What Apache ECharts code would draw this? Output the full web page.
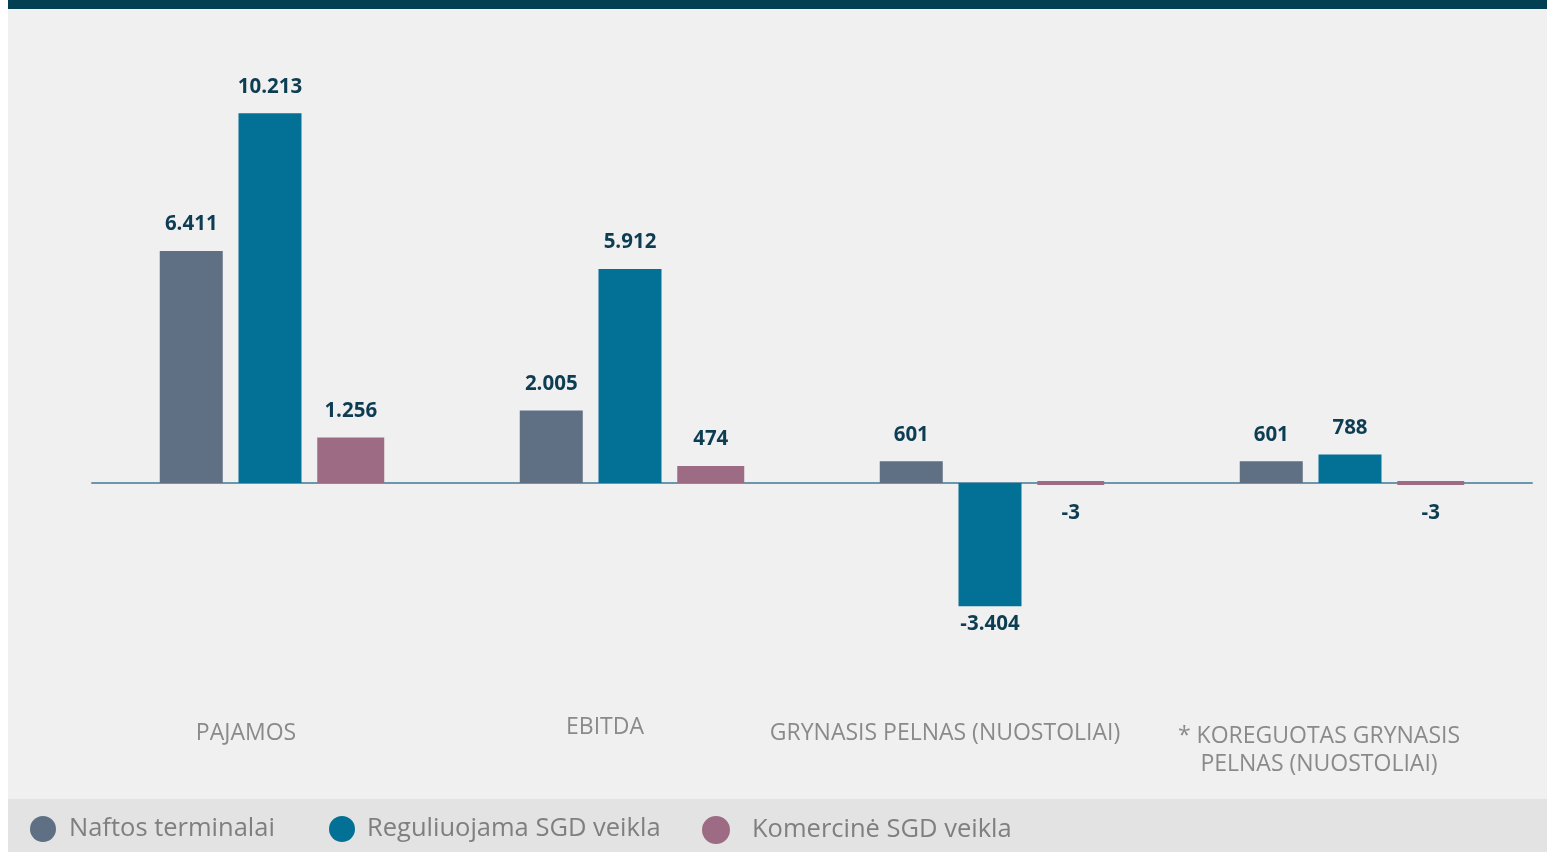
<!DOCTYPE html>
<html>
<head>
<meta charset="utf-8">
<script src="https://cdn.jsdelivr.net/npm/echarts@6/dist/echarts.min.js"></script>
<style>
html,body{margin:0;padding:0;background:#ffffff;}
#chart{width:1547px;height:852px;}
</style>
</head>
<body>
<div id="chart"></div>
<script>
// ---- data ----
const categories = ['PAJAMOS', 'EBITDA', 'GRYNASIS PELNAS (NUOSTOLIAI)', '* KOREGUOTAS GRYNASIS\nPELNAS (NUOSTOLIAI)'];
const seriesNames = ['Naftos terminalai', 'Reguliuojama SGD veikla', 'Komercinė SGD veikla'];
const naftos = [6411, 2005, 601, 601];
const reguliuojama = [10213, 5912, -3404, 788];
const komercine = [1256, 474, -3, -3];

// ---- styling ----
const colors = ['#5f6f84', '#037195', '#9e6b85'];
const labelShift = [26, 27, 47, 33];      // px shift left of category label
const labelTop = [6, 0, 6, 9];           // px extra top padding
const legendLeft = [30, 329, 702];
const legendTextPad = [8, 7, 18];

function fmt(v) {
  const s = Math.abs(v).toString();
  const withDots = s.replace(/\B(?=(\d{3})+(?!\d))/g, '.');
  return (v < 0 ? '-' : '') + withDots;
}

function buildData(values) {
  return values.map(v => ({
    value: v,
    label: v < 0 ? { position: 'bottom', distance: Math.abs(v) < 100 ? 18 : 7 } : { position: 'top', distance: 16 }
  }));
}

const valueLabel = {
  show: true,
  formatter: p => fmt(p.value),
  fontFamily: 'Open Sans',
  fontWeight: 'bold',
  fontSize: 20.5,
  color: '#0d3d52'
};

const chart = echarts.init(document.getElementById('chart'), null, { renderer: 'canvas' });

const option = {
  backgroundColor: '#ffffff',
  animation: false,
  graphic: [
    { type: 'rect', z: -10, silent: true, shape: { x: 8, y: 0, width: 1539, height: 9 }, style: { fill: '#033f52' } },
    { type: 'rect', z: -10, silent: true, shape: { x: 8, y: 9, width: 1539, height: 790 }, style: { fill: '#f0f0f0' } },
    { type: 'rect', z: -10, silent: true, shape: { x: 8, y: 799, width: 1539, height: 53 }, style: { fill: '#e3e3e3' } }
  ],
  legend: [0, 1, 2].map(i => ({
    data: [seriesNames[i]],
    left: legendLeft[i],
    top: 816,
    padding: 0,
    icon: 'circle',
    itemWidth: 26,
    itemHeight: 26,
    itemGap: 0,
    selectedMode: false,
    textStyle: { fontFamily: 'Open Sans', fontSize: 25.5, color: '#7f7f7f', padding: [0, 0, 0, legendTextPad[i]] }
  })),
  grid: { left: 92, right: 15, top: 48.5, height: 579.4, containLabel: false, outerBoundsMode: 'none' },
  xAxis: [
    {
      type: 'category',
      position: 'bottom',
      data: categories,
      axisLine: { onZero: true, lineStyle: { color: '#6b96ab', width: 2 } },
      axisTick: { show: false },
      axisLabel: { show: false },
      splitLine: { show: false }
    },
    {
      type: 'category',
      position: 'bottom',
      data: categories.map((c, i) => ({
        value: c,
        textStyle: { padding: [labelTop[i], labelShift[i] * 2, 0, 0] }
      })),
      axisLine: { show: false, onZero: false },
      axisTick: { show: false },
      splitLine: { show: false },
      axisLabel: {
        show: true,
        interval: 0,
        margin: 86,
        fontFamily: 'Open Sans',
        fontSize: 23,
        lineHeight: 28,
        color: '#8a8a8a',
        align: 'center'
      }
    }
  ],
  yAxis: {
    type: 'value',
    min: -4000,
    max: 12000,
    show: false,
    splitLine: { show: false }
  },
  series: [
    { name: seriesNames[0], type: 'bar', data: buildData(naftos), barWidth: 63, barGap: '25%',
      itemStyle: { color: colors[0] }, label: valueLabel },
    { name: seriesNames[1], type: 'bar', data: buildData(reguliuojama), barWidth: 63, barGap: '25%',
      itemStyle: { color: colors[1] }, label: valueLabel },
    { name: seriesNames[2], type: 'bar', data: buildData(komercine), barWidth: 67, barGap: '25%',
      itemStyle: { color: colors[2], borderColor: colors[2], borderWidth: 4 }, label: valueLabel }
  ]
};
chart.setOption(option);
</script>
</body>
</html>
